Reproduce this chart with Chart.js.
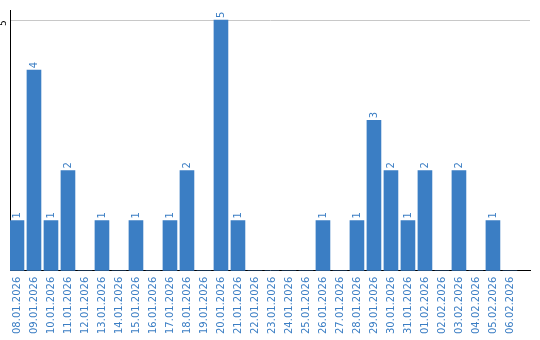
<!DOCTYPE html>
<html>
<head>
<meta charset="utf-8">
<script src="https://cdn.jsdelivr.net/npm/chart.js@4"></script>
<style>
  html, body { margin: 0; padding: 0; background: #fff; }
  #wrap { width: 540px; height: 340px; }
</style>
</head>
<body>
<div id="wrap"><canvas id="chart" width="540" height="340"></canvas></div>
<script>
// daily counts, one bar per day
const dates = [
  '08.01.2026', '09.01.2026', '10.01.2026', '11.01.2026', '12.01.2026',
  '13.01.2026', '14.01.2026', '15.01.2026', '16.01.2026', '17.01.2026',
  '18.01.2026', '19.01.2026', '20.01.2026', '21.01.2026', '22.01.2026',
  '23.01.2026', '24.01.2026', '25.01.2026', '26.01.2026', '27.01.2026',
  '28.01.2026', '29.01.2026', '30.01.2026', '31.01.2026', '01.02.2026',
  '02.02.2026', '03.02.2026', '04.02.2026', '05.02.2026', '06.02.2026'
];
const counts = [1, 4, 1, 2, 0, 1, 0, 1, 0, 1, 2, 0, 5, 1, 0, 0, 0, 0, 1, 0, 1, 3, 2, 1, 2, 0, 2, 0, 1, 0];
const yTicks = [5];

const blue = '#3b7ec4';
const font = 'DejaVu Sans';

// value labels above bars + rotated y tick label
const labelPlugin = {
  id: 'labels',
  afterDatasetsDraw(chart) {
    const ctx = chart.ctx;
    const meta = chart.getDatasetMeta(0);
    ctx.save();
    ctx.font = '10px ' + font;
    ctx.fillStyle = blue;
    ctx.textAlign = 'left';
    ctx.textBaseline = 'middle';
    meta.data.forEach((bar, i) => {
      if (!counts[i]) return;
      ctx.save();
      ctx.translate(bar.x, bar.y - 2);
      ctx.rotate(-Math.PI / 2);
      ctx.fillText(String(counts[i]), 0, 0);
      ctx.restore();
    });
    const y = chart.scales.y;
    ctx.fillStyle = '#000';
    ctx.font = '9px ' + font;
    ctx.textAlign = 'center';
    yTicks.forEach(v => {
      ctx.save();
      ctx.translate(chart.chartArea.left - 6, y.getPixelForValue(v) + 3);
      ctx.rotate(-Math.PI / 2);
      ctx.fillText(String(v), 0, 0);
      ctx.restore();
    });
    ctx.restore();
  }
};

new Chart(document.getElementById('chart').getContext('2d'), {
  type: 'bar',
  data: {
    datasets: [{
      data: counts.map((c, i) => ({ x: i, y: c })),
      backgroundColor: blue,
      barThickness: 14,
      borderWidth: 0
    }]
  },
  options: {
    responsive: false,
    animation: false,
    layout: { padding: { left: 10, right: 10, top: 10, bottom: 0 } },
    plugins: { legend: { display: false }, tooltip: { enabled: false } },
    scales: {
      x: {
        type: 'linear',
        offset: false,
        min: -0.41,
        max: 30.18,
        afterBuildTicks: axis => { axis.ticks = dates.map((d, i) => ({ value: i })); },
        ticks: {
          autoSkip: false,
          minRotation: 90,
          maxRotation: 90,
          padding: 6,
          color: blue,
          font: { family: font, size: 10 },
          callback: v => dates[v]
        },
        grid: { display: false, drawTicks: false },
        border: { display: true, color: '#000', width: 1 }
      },
      y: {
        min: 0,
        max: 5.2,
        afterBuildTicks: axis => { axis.ticks = yTicks.map(v => ({ value: v })); },
        ticks: { display: false },
        grid: { color: '#c8c8c8', drawTicks: false },
        border: { display: true, color: '#000', width: 1 }
      }
    }
  },
  plugins: [labelPlugin]
});
</script>
</body>
</html>
